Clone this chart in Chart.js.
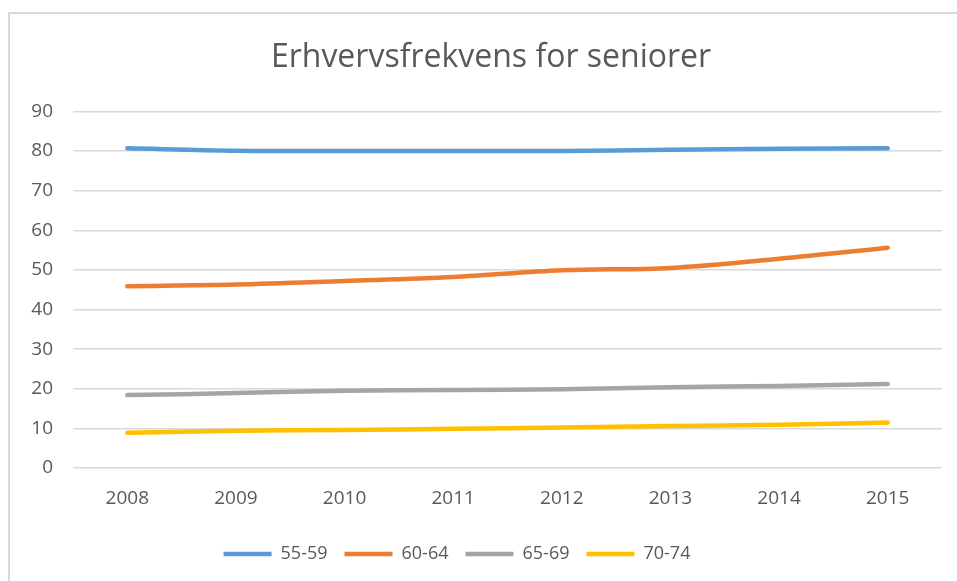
<!DOCTYPE html>
<html>
<head>
<meta charset="utf-8">
<script src="https://cdn.jsdelivr.net/npm/chart.js@4.4.1/dist/chart.umd.min.js"></script>
<style>
  html, body { margin: 0; padding: 0; background: #fff; }
  #wrap { position: relative; width: 957px; height: 581px; overflow: hidden; }
  #frame { position: absolute; left: 8px; top: 12px; width: 1000px; height: 700px;
           border-left: 2px solid #d9d9d9; border-top: 2px solid #d9d9d9; }
  #chart { position: absolute; left: 0; top: 0; }
</style>
</head>
<body>
<div id="wrap">
  <div id="frame"></div>
  <canvas id="chart" width="957" height="581"></canvas>
</div>
<script>
const years = ['2008', '2009', '2010', '2011', '2012', '2013', '2014', '2015'];
const seriesNames = ['55-59', '60-64', '65-69', '70-74'];
const age5559 = [80.7, 80.1, 80.0, 80.0, 80.0, 80.3, 80.6, 80.7];
const age6064 = [45.9, 46.3, 47.2, 48.2, 49.9, 50.5, 52.8, 55.6];
const age6569 = [18.4, 18.9, 19.5, 19.7, 19.9, 20.4, 20.7, 21.2];
const age7074 = [8.9, 9.4, 9.6, 9.9, 10.2, 10.6, 10.9, 11.5];
const colors = ['#5B9BD5', '#ED7D31', '#A5A5A5', '#FFC000'];

const textColor = '#595959';
const fontFamily = '"Open Sans", "Liberation Sans", sans-serif';

// nudge title and legend like in the original layout
const shiftBoxes = {
  id: 'shiftBoxes',
  afterLayout(chart) {
    chart.titleBlock.left += 10;
    chart.titleBlock.right += 10;
    chart.legend.left -= 24;
    chart.legend.right -= 24;
  }
};

const ctx = document.getElementById('chart').getContext('2d');
new Chart(ctx, {
  type: 'line',
  data: {
    labels: years,
    datasets: [age5559, age6064, age6569, age7074].map((values, i) => ({
      label: seriesNames[i],
      data: values,
      borderColor: colors[i],
      backgroundColor: colors[i],
      borderWidth: 4.5,
      borderCapStyle: 'round',
      pointRadius: 0,
      tension: 0.35,
      fill: false
    }))
  },
  options: {
    responsive: false,
    animation: false,
    layout: { padding: { left: 20, right: 15, top: 0, bottom: 8 } },
    plugins: {
      title: {
        display: true,
        text: 'Erhvervsfrekvens for seniorer',
        color: textColor,
        font: { family: fontFamily, size: 32, weight: 'normal' },
        padding: { top: 39, bottom: 34 }
      },
      legend: {
        position: 'bottom',
        labels: {
          color: textColor,
          font: { family: fontFamily, size: 18 },
          usePointStyle: true,
          pointStyle: 'line',
          pointStyleWidth: 48,
          padding: 17
        }
      },
      tooltip: { enabled: false }
    },
    scales: {
      x: {
        offset: true,
        afterFit(scale) { scale.height = 60; },
        grid: { display: false },
        border: { display: false },
        ticks: { color: textColor, font: { family: fontFamily, size: 19 }, padding: 11 }
      },
      y: {
        min: 0,
        max: 90,
        afterFit(scale) { scale.width = 53; },
        grid: { color: '#d9d9d9', lineWidth: 1.5, drawTicks: false },
        border: { display: false },
        ticks: { stepSize: 10, color: textColor, font: { family: fontFamily, size: 19 }, padding: 20 }
      }
    }
  },
  plugins: [shiftBoxes]
});
</script>
</body>
</html>
